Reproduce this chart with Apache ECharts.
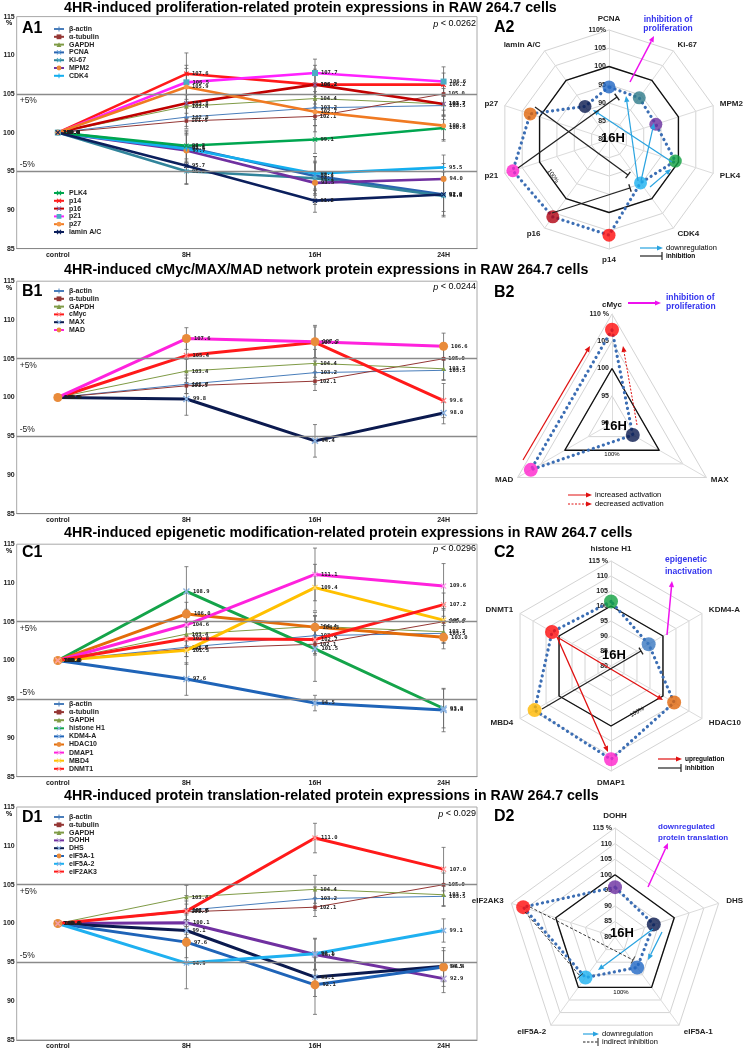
<!DOCTYPE html>
<html><head><meta charset="utf-8">
<script src="https://cdn.jsdelivr.net/npm/echarts@6.0.0/dist/echarts.min.js"></script>
<style>html,body{margin:0;padding:0;background:#fff;}#chart{width:747px;height:1050px;}</style>
</head><body><div id="chart"></div>
<script>
// ================= DATA =================
const timepoints = ['control', '8H', '16H', '24H'];
const yMin = 85, yMax = 115, yStep = 5;
const thresholds = [105, 95];
const refLevel = 100;

// ---- A1 : proliferation-related (control, 8H, 16H, 24H) ----
const aBetaActin    = [100, 102.0, 103.2, 103.5];
const aAlphaTubulin = [100, 101.5, 102.1, 105.0];
const aGAPDH        = [100, 103.4, 104.4, 103.7];
const aPCNA         = [100, 98.1, 94.4, 92.0];
const aKi67         = [100, 95.0, 94.1, 91.8];
const aMPM2         = [100, 97.7, 93.5, 94.0];
const aCDK4         = [100, 97.9, 94.7, 95.5];
const aPLK4         = [100, 98.3, 99.1, 100.6];
const aP14          = [100, 107.6, 106.2, 106.2];
const aP16          = [100, 103.8, 106.2, 103.7];
const aP21          = [100, 106.5, 107.7, 106.6];
const aP27          = [100, 105.9, 102.7, 100.9];
const aLamin        = [100, 95.7, 91.2, 92.0];
// error (SD) estimates
const aBetaActinSD    = [0, 1.2, 1.5, 1.3];
const aAlphaTubulinSD = [0, 1.0, 1.2, 1.5];
const aGAPDHSD        = [0, 1.5, 1.8, 1.4];
const aPCNASD         = [0, 2.0, 2.5, 2.9];
const aKi67SD         = [0, 1.6, 2.0, 2.5];
const aMPM2SD         = [0, 2.2, 2.8, 2.0];
const aCDK4SD         = [0, 1.8, 2.2, 1.6];
const aPLK4SD         = [0, 2.0, 1.8, 1.5];
const aP14SD          = [0, 2.7, 2.5, 1.5];
const aP16SD          = [0, 2.0, 2.0, 2.0];
const aP21SD          = [0, 2.2, 1.8, 1.9];
const aP27SD          = [0, 2.4, 2.6, 2.0];
const aLaminSD        = [0, 2.4, 1.5, 2.2];

// ---- housekeeping for B1, C1, D1 ----
const hkBetaActin      = [100, 101.7, 103.2, 103.5];
const hkAlphaTubulin   = [100, 101.5, 102.1, 105.0];
const hkGAPDH          = [100, 103.4, 104.4, 103.7];
const hkBetaActinSD    = [0, 1.2, 1.5, 1.3];
const hkAlphaTubulinSD = [0, 1.0, 1.2, 1.5];
const hkGAPDHSD        = [0, 1.5, 1.8, 1.4];

// ---- B1 : cMyc/MAX/MAD ----
const bCMyc  = [100, 105.4, 107.1, 99.6];
const bMAX   = [100, 99.8, 94.4, 98.0];
const bMAD   = [100, 107.6, 107.2, 106.6];
const bCMycSD = [0, 2.0, 2.0, 2.2];
const bMAXSD  = [0, 2.1, 2.1, 1.4];
const bMADSD  = [0, 1.4, 2.1, 1.7];

// ---- C1 : epigenetic ----
const cHistoneH1 = [100, 108.9, 101.5, 93.8];
const cKDM4A     = [100, 97.6, 94.5, 93.6];
const cHDAC10    = [100, 106.0, 104.3, 103.0];
const cDMAP1     = [100, 104.6, 111.1, 109.6];
const cMBD4      = [100, 101.3, 109.4, 105.2];
const cDNMT1     = [100, 102.8, 102.7, 107.2];
const cHistoneH1SD = [0, 3.2, 4.2, 2.5];
const cKDM4ASD     = [0, 2.1, 1.0, 2.8];
const cHDAC10SD    = [0, 1.5, 1.5, 1.5];
const cDMAP1SD     = [0, 2.0, 3.4, 2.9];
const cMBD4SD      = [0, 1.8, 3.0, 2.0];
const cDNMT1SD     = [0, 1.5, 2.0, 1.5];

// ---- D1 : protein translation ----
const dDOHH    = [100, 100.1, 96.0, 92.9];
const dDHS     = [100, 99.1, 93.1, 94.5];
const dEIF5A1  = [100, 97.6, 92.1, 94.4];
const dEIF5A2  = [100, 94.9, 96.1, 99.1];
const dEIF2AK3 = [100, 101.6, 111.0, 107.0];
const dDOHHSD    = [0, 1.5, 2.0, 1.8];
const dDHSSD     = [0, 2.0, 2.5, 2.0];
const dEIF5A1SD  = [0, 2.0, 3.8, 2.5];
const dEIF5A2SD  = [0, 3.3, 2.0, 1.5];
const dEIF2AK3SD = [0, 2.0, 1.9, 2.8];

// ---- radar axes (clockwise from top) ----
const a2Axes = ['PCNA', 'Ki-67', 'MPM2', 'PLK4', 'CDK4', 'p14', 'p16', 'p21', 'p27', 'lamin A/C'];
const b2Axes = ['cMyc', 'MAX', 'MAD'];
const c2Axes = ['histone H1', 'KDM4-A', 'HDAC10', 'DMAP1', 'MBD4', 'DNMT1'];
const d2Axes = ['DOHH', 'DHS', 'eIF5A-1', 'eIF5A-2', 'eIF2AK3'];

// ================= STYLE =================
const FF = '"Liberation Sans", Arial, sans-serif';
const PLUS = 'path://M4,0H6V4H10V6H6V10H4V6H0V4H4Z';
const CROSS = 'path://M1.5,0L5,3.5L8.5,0L10,1.5L6.5,5L10,8.5L8.5,10L5,6.5L1.5,10L0,8.5L3.5,5L0,1.5Z';
const styles = {
  'β-actin':   {line:'#4A7EBB', w:1, sym:PLUS, mk:'#4A7EBB', ms:5},
  'α-tubulin': {line:'#953735', w:1, sym:'rect', mk:'#953735', ms:3.5},
  'GAPDH':     {line:'#7F9B46', w:1, sym:'triangle', mk:'#7F9B46', ms:4.5},
  'PCNA':      {line:'#2A64B0', w:2.6, sym:CROSS, mk:'#5B9BD5', ms:5},
  'Ki-67':     {line:'#31849B', w:2.6, sym:CROSS, mk:'#4BACC6', ms:5},
  'MPM2':      {line:'#7030A0', w:2.6, sym:'circle', mk:'#E98B3A', ms:6},
  'CDK4':      {line:'#14AEEF', w:2.6, sym:PLUS, mk:'#14AEEF', ms:5},
  'PLK4':      {line:'#00A650', w:2.6, sym:CROSS, mk:'#00A650', ms:5},
  'p14':       {line:'#FF1A1A', w:2.6, sym:CROSS, mk:'#FF1A1A', ms:5},
  'p16':       {line:'#C00000', w:2.6, sym:CROSS, mk:'#8064A2', ms:5},
  'p21':       {line:'#FF22FF', w:2.6, sym:'rect', mk:'#4BACC6', ms:6},
  'p27':       {line:'#F07A22', w:2.6, sym:'circle', mk:'#F79646', ms:5},
  'lamin A/C': {line:'#0B1F5C', w:2.6, sym:CROSS, mk:'#0B1F5C', ms:5},
  'cMyc':      {line:'#FF1A1A', w:3, sym:CROSS, mk:'#FF8080', ms:6},
  'MAX':       {line:'#0B1A4F', w:3, sym:CROSS, mk:'#8DB4E2', ms:7},
  'MAD':       {line:'#FF22DD', w:3, sym:'circle', mk:'#E98B3A', ms:9},
  'histone H1':{line:'#14A44A', w:3, sym:CROSS, mk:'#8DB4E2', ms:7},
  'KDM4-A':    {line:'#1F64B8', w:3, sym:CROSS, mk:'#8DB4E2', ms:7},
  'HDAC10':    {line:'#E36C09', w:3, sym:'circle', mk:'#E98B3A', ms:9},
  'DMAP1':     {line:'#FF22DD', w:3, sym:CROSS, mk:'#FF99EE', ms:6},
  'MBD4':      {line:'#FFC000', w:3, sym:CROSS, mk:'#FFD966', ms:6},
  'DNMT1':     {line:'#FF1A1A', w:3, sym:CROSS, mk:'#FF9999', ms:6},
  'DOHH':      {line:'#7030A0', w:3, sym:CROSS, mk:'#B4A7D6', ms:7},
  'DHS':       {line:'#0B1A4F', w:3, sym:CROSS, mk:'#8DB4E2', ms:6},
  'eIF5A-1':   {line:'#1F64B8', w:3, sym:'circle', mk:'#E98B3A', ms:9},
  'eIF5A-2':   {line:'#1FB0F0', w:3, sym:CROSS, mk:'#8DB4E2', ms:6},
  'eIF2AK3':   {line:'#FF1A1A', w:3, sym:CROSS, mk:'#FF9999', ms:6}
};
const dotColors = {
  'PCNA':'#1F66C4','Ki-67':'#2E7A8A','MPM2':'#6A2EA0','PLK4':'#10A040','CDK4':'#1AB0F0',
  'p14':'#FF0A0A','p16':'#B00010','p21':'#FF22CC','p27':'#E0650A','lamin A/C':'#0A1A4F',
  'cMyc':'#FF0A0A','MAX':'#0A1A4F','MAD':'#FF22CC',
  'histone H1':'#10A040','KDM4-A':'#3A78C0','HDAC10':'#E0650A','DMAP1':'#FF22CC','MBD4':'#FFB800','DNMT1':'#FF0A0A',
  'DOHH':'#6A2EA0','DHS':'#0A1A4F','eIF5A-1':'#1F66C4','eIF5A-2':'#1AB0F0','eIF2AK3':'#FF0A0A'
};

// ================= PANELS =================
const panels = [
  {top:16.6, height:232, series:[
    ['β-actin', aBetaActin, aBetaActinSD], ['α-tubulin', aAlphaTubulin, aAlphaTubulinSD], ['GAPDH', aGAPDH, aGAPDHSD],
    ['PCNA', aPCNA, aPCNASD], ['Ki-67', aKi67, aKi67SD], ['MPM2', aMPM2, aMPM2SD], ['CDK4', aCDK4, aCDK4SD],
    ['PLK4', aPLK4, aPLK4SD], ['p14', aP14, aP14SD], ['p16', aP16, aP16SD], ['p21', aP21, aP21SD],
    ['p27', aP27, aP27SD], ['lamin A/C', aLamin, aLaminSD]]},
  {top:281.2, height:232.5, series:[
    ['β-actin', hkBetaActin, hkBetaActinSD], ['α-tubulin', hkAlphaTubulin, hkAlphaTubulinSD], ['GAPDH', hkGAPDH, hkGAPDHSD],
    ['cMyc', bCMyc, bCMycSD], ['MAX', bMAX, bMAXSD], ['MAD', bMAD, bMADSD]]},
  {top:544.2, height:232.5, series:[
    ['β-actin', hkBetaActin, hkBetaActinSD], ['α-tubulin', hkAlphaTubulin, hkAlphaTubulinSD], ['GAPDH', hkGAPDH, hkGAPDHSD],
    ['histone H1', cHistoneH1, cHistoneH1SD], ['KDM4-A', cKDM4A, cKDM4ASD], ['HDAC10', cHDAC10, cHDAC10SD],
    ['DMAP1', cDMAP1, cDMAP1SD], ['MBD4', cMBD4, cMBD4SD], ['DNMT1', cDNMT1, cDNMT1SD]]},
  {top:807, height:234, series:[
    ['β-actin', hkBetaActin, hkBetaActinSD], ['α-tubulin', hkAlphaTubulin, hkAlphaTubulinSD], ['GAPDH', hkGAPDH, hkGAPDHSD],
    ['DOHH', dDOHH, dDOHHSD], ['DHS', dDHS, dDHSSD], ['eIF5A-1', dEIF5A1, dEIF5A1SD],
    ['eIF5A-2', dEIF5A2, dEIF5A2SD], ['eIF2AK3', dEIF2AK3, dEIF2AK3SD]]}
];

const grids = [], xAxes = [], yAxes = [], series = [];
panels.forEach((p, k) => {
  grids.push({left:16, top:p.top, width:461, height:p.height, show:true, borderColor:'#a8a8a8', borderWidth:1, backgroundColor:'#fff'});
  xAxes.push({gridIndex:k, type:'value', min:-0.32, max:3.26,
    axisLine:{show:true, onZero:false, lineStyle:{color:'#888', width:1}}, axisTick:{show:false}, splitLine:{show:false},
    axisLabel:{customValues:[0,1,2,3], formatter:v => timepoints[Math.round(v)], fontSize:7, fontWeight:'bold', color:'#222', margin:3, fontFamily:FF}});
  yAxes.push({gridIndex:k, type:'value', min:yMin, max:yMax, interval:yStep,
    axisLine:{show:false}, axisTick:{show:false}, splitLine:{show:false},
    axisLabel:{fontSize:7, fontWeight:'bold', color:'#222', margin:2, fontFamily:FF}});
  // error bars
  const errData = [];
  p.series.forEach(([n, vals, sd]) => vals.forEach((v, i) => { if (sd[i] > 0) errData.push([i, v - sd[i], v + sd[i]]); }));
  series.push({type:'custom', name:'err' + k, xAxisIndex:k, yAxisIndex:k, silent:true, z:1, data:errData,
    encode:{x:0, y:[1,2]},
    renderItem:(params, api) => {
      const x = api.value(0);
      const lo = api.coord([x, api.value(1)]);
      const hi = api.coord([x, api.value(2)]);
      const st = {stroke:'#666', lineWidth:0.8};
      return {type:'group', children:[
        {type:'line', shape:{x1:lo[0], y1:lo[1], x2:hi[0], y2:hi[1]}, style:st},
        {type:'line', shape:{x1:lo[0]-2, y1:lo[1], x2:lo[0]+2, y2:lo[1]}, style:st},
        {type:'line', shape:{x1:hi[0]-2, y1:hi[1], x2:hi[0]+2, y2:hi[1]}, style:st}
      ]};
    }});
  p.series.forEach(([n, vals], j) => {
    const s = styles[n];
    const ser = {type:'line', name:n, xAxisIndex:k, yAxisIndex:k, z: s.w > 1 ? 4 : 3,
      data: vals.map((v, i) => [i, v]),
      symbol:s.sym, symbolSize:s.ms, showAllSymbol:true,
      lineStyle:{color:s.line, width:s.w}, itemStyle:{color:s.mk, borderWidth:0},
      emphasis:{disabled:true},
      label:{show:true, position:'right', distance:3, fontSize:5.5, fontWeight:'bold', color:'#222', fontFamily:'"DejaVu Sans Mono", monospace',
        formatter:pp => pp.value[1].toFixed(1)}};
    if (j === 0) {
      ser.markLine = {silent:true, symbol:['none','none'], animation:false,
        lineStyle:{color:'#8a8a8a', width:1.3, type:'solid'},
        label:{color:'#222', fontSize:8.5, fontFamily:FF, distance:[3, 2]},
        data:[
          {yAxis:thresholds[0], label:{formatter:'+5%', position:'insideStartBottom'}},
          {yAxis:thresholds[1], label:{formatter:'-5%', position:'insideStartTop'}}
        ]};
    }
    series.push(ser);
  });
});

// legends
const legBase = {orient:'vertical', itemWidth:10, itemHeight:6, itemGap:0.8, padding:0, selectedMode:false,
  textStyle:{fontSize:7, fontWeight:'bold', color:'#222', fontFamily:FF, lineHeight:7}};
const legends = [
  Object.assign({}, legBase, {left:53, top:25.5, data:['β-actin','α-tubulin','GAPDH','PCNA','Ki-67','MPM2','CDK4']}),
  Object.assign({}, legBase, {left:53, top:189.5, data:['PLK4','p14','p16','p21','p27','lamin A/C']}),
  Object.assign({}, legBase, {left:53, top:287.5, data:['β-actin','α-tubulin','GAPDH','cMyc','MAX','MAD']}),
  Object.assign({}, legBase, {left:53, top:700.5, itemGap:1.1, data:['β-actin','α-tubulin','GAPDH','histone H1','KDM4-A','HDAC10','DMAP1','MBD4','DNMT1']}),
  Object.assign({}, legBase, {left:53, top:813.5, data:['β-actin','α-tubulin','GAPDH','DOHH','DHS','eIF5A-1','eIF5A-2','eIF2AK3']})
];

// ================= RADARS =================
const ccw = arr => [arr[0]].concat(arr.slice(1).reverse());
const valAt16H = (names, list) => names.map(n => list.find(s => s[0] === n)[1][2]);
const radarDefs = [
  {center:[609, 139.5], radius:109.5, min:80, max:110, axes:a2Axes, vals:valAt16H(a2Axes, panels[0].series), suffix:'%', nameGap:7, dot:13},
  {center:[612, 423], radius:109, min:90, max:110, axes:b2Axes, vals:valAt16H(b2Axes, panels[1].series), suffix:' %', nameGap:5, dot:14},
  {center:[611, 666], radius:105, min:80, max:115, axes:c2Axes, vals:valAt16H(c2Axes, panels[2].series), suffix:' %', nameGap:8, dot:14},
  {center:[615, 937], radius:109, min:80, max:115, axes:d2Axes, vals:valAt16H(d2Axes, panels[3].series), suffix:' %', nameGap:8, dot:14}
];
const radars = [], polars = [], angleAxes = [], radiusAxes = [];
radarDefs.forEach((r, k) => {
  radars.push({center:r.center, radius:r.radius, startAngle:90, shape:'polygon', splitNumber:(r.max - r.min) / 5,
    indicator: ccw(r.axes).map(n => ({name:n, min:r.min, max:r.max})),
    axisName:{color:'#222', fontSize:8, fontWeight:'bold', fontFamily:FF}, nameGap:r.nameGap,
    splitLine:{lineStyle:{color:'#d4d4d4', width:1}}, splitArea:{show:false},
    axisLine:{lineStyle:{color:'#dcdcdc', width:1}}, axisTick:{show:false}, axisLabel:{show:false}});
  polars.push({center:r.center, radius:r.radius});
  angleAxes.push({polarIndex:k, type:'value', min:0, max:r.axes.length, startAngle:90, clockwise:true, show:false});
  radiusAxes.push({polarIndex:k, type:'value', min:r.min, max:r.max, interval:5,
    axisLine:{show:false}, axisTick:{show:false}, splitLine:{show:false},
    axisLabel:{show:true, fontSize:7, fontWeight:'bold', color:'#222', fontFamily:FF, margin:3,
      formatter:v => v === r.max ? v + r.suffix : String(v)}});
  // 100% reference polygon
  series.push({type:'radar', radarIndex:k, symbol:'none', silent:true, z:2,
    lineStyle:{color:'#111', width:1.4}, data:[{value: ccw(r.axes.map(() => refLevel))}]});
  // dotted profile
  series.push({type:'radar', radarIndex:k, symbol:'none', silent:true, z:3,
    lineStyle:{color:'#3C6EB4', width:3.2, type:[0.1, 5.2], cap:'round'}, data:[{value: ccw(r.vals)}]});
  // coloured dots
  series.push({type:'scatter', coordinateSystem:'polar', polarIndex:k, silent:true, z:10, symbolSize:r.dot,
    data: r.axes.map((n, i) => ({value:[r.vals[i], i], itemStyle:{color:dotColors[n]}}))});
});

// ================= ANNOTATIONS / TEXT =================
const graphics = [];
function txt(x, y, text, o) {
  o = o || {};
  const el = {type:'text', x, y, z:50, silent:true, rotation:o.rot || 0,
    style:{text, fill:o.color || '#000', fontSize:o.size || 8, fontWeight:o.weight || 'bold',
      fontFamily:FF, align:o.align || 'left', verticalAlign:'middle'}};
  if (o.rich) el.style.rich = o.rich;
  graphics.push(el);
}
function arrow(x1, y1, x2, y2, color, w, dash) {
  const a = Math.atan2(y2 - y1, x2 - x1), hl = 6, hw = 2.6;
  const bx = x2 - hl * Math.cos(a), by = y2 - hl * Math.sin(a);
  const px = -Math.sin(a) * hw, py = Math.cos(a) * hw;
  graphics.push({type:'line', z:40, silent:true, shape:{x1, y1, x2:bx, y2:by}, style:{stroke:color, lineWidth:w, lineDash:dash || null}});
  graphics.push({type:'polygon', z:40, silent:true, shape:{points:[[x2, y2], [bx + px, by + py], [bx - px, by - py]]}, style:{fill:color}});
}
function tbar(x1, y1, x2, y2, color, w, dash) {
  const a = Math.atan2(y2 - y1, x2 - x1), hw = 4;
  const px = -Math.sin(a) * hw, py = Math.cos(a) * hw;
  graphics.push({type:'line', z:40, silent:true, shape:{x1, y1, x2, y2}, style:{stroke:color, lineWidth:w, lineDash:dash || null}});
  graphics.push({type:'line', z:40, silent:true, shape:{x1:x2 + px, y1:y2 + py, x2:x2 - px, y2:y2 - py}, style:{stroke:color, lineWidth:w}});
}

// titles
txt(64, 8, '4HR-induced proliferation-related protein expressions in RAW 264.7 cells', {size:14.2});
txt(64, 270, '4HR-induced cMyc/MAX/MAD network protein expressions in RAW 264.7 cells', {size:14.2});
txt(64, 533, '4HR-induced epigenetic modification-related protein expressions in RAW 264.7 cells', {size:14.2});
txt(64, 796, '4HR-induced protein translation-related protein expressions in RAW 264.7 cells', {size:14.2});
// panel labels
[['A1', 29], ['B1', 292], ['C1', 553], ['D1', 818]].forEach(([t, y]) => txt(22, y, t, {size:16}));
[['A2', 28], ['B2', 293], ['C2', 553], ['D2', 817]].forEach(([t, y]) => txt(494, y, t, {size:16}));
// p values
[['0.0262', 24], ['0.0244', 287], ['0.0296', 549], ['0.029', 814]].forEach(([t, y]) =>
  txt(476, y, '{i|p} < ' + t, {size:9, weight:'normal', align:'right', rich:{i:{fontStyle:'italic', fontSize:9, fontFamily:FF}}}));
// % under top tick
[23.5, 288, 551, 814].forEach(y => txt(9, y, '%', {size:7, align:'center'}));

// ---- A2 annotations ----
const BLUE = '#29A3E0', MAG = '#EE11EE', TXTB = '#3333EE';
arrow(638, 181, 626, 96, BLUE, 1.2);
arrow(641, 181, 654, 123, BLUE, 1.2);
arrow(672, 162, 593, 110, BLUE, 1.2);
arrow(650, 187, 671, 169, BLUE, 1.2);
tbar(518, 168, 617, 97, '#222', 1.3);
tbar(535, 107, 628, 175, '#222', 1.3);
tbar(552, 213, 630, 188, '#222', 1.3);
arrow(630, 82, 654, 36, MAG, 1.5);
txt(668, 20, 'inhibition of', {size:8.5, color:TXTB, align:'center'});
txt(668, 29, 'proliferation', {size:8.5, color:TXTB, align:'center'});
txt(613, 138.5, '16H', {size:13, align:'center'});
txt(553, 176, '100%', {size:6, rot:-0.95, align:'center', weight:'normal'});
arrow(640, 248, 663, 248, BLUE, 1.2);
txt(666, 248, 'downregulation', {size:7.5, weight:'normal'});
tbar(640, 256, 662, 256, '#222', 1.2);
txt(666, 256.5, 'inhibition', {size:6.5});

// ---- B2 annotations ----
arrow(523, 460, 590, 346, '#E01010', 1.2);
arrow(637, 425, 623, 346, '#E01010', 1, [2, 1.5]);
arrow(628, 303, 661, 303, MAG, 2);
txt(666, 298, 'inhibition of', {size:8.5, color:TXTB});
txt(666, 306.5, 'proliferation', {size:8.5, color:TXTB});
txt(615, 426, '16H', {size:13, align:'center'});
txt(612, 454.5, '100%', {size:6, align:'center', weight:'normal'});
arrow(568, 495, 592, 495, '#E01010', 1);
txt(595, 495, 'increased activation', {size:7.5, weight:'normal'});
arrow(568, 504, 592, 504, '#E01010', 1, [2, 1.5]);
txt(595, 504, 'decreased activation', {size:7.5, weight:'normal'});

// ---- C2 annotations ----
arrow(557, 637, 663, 700, '#E01010', 1.3);
arrow(557, 637, 608, 752, '#E01010', 1.3);
tbar(542, 709, 641, 651, '#222', 1.3);
arrow(667, 635, 672, 581, MAG, 1.5);
txt(665, 560, 'epigenetic', {size:8.5, color:TXTB});
txt(665, 571.5, 'inactivation', {size:8.5, color:TXTB});
txt(614, 655, '16H', {size:13, align:'center'});
txt(637, 712, '100%', {size:6, rot:0.52, align:'center', weight:'normal'});
arrow(658, 759, 682, 759, '#E01010', 1.2);
txt(685, 759, 'upregulation', {size:6.5});
tbar(658, 768, 681, 768, '#222', 1.2);
txt(685, 768, 'inhibition', {size:6.5});

// ---- D2 annotations ----
arrow(653, 929, 598, 970, BLUE, 1.2);
arrow(662, 932, 648, 960, BLUE, 1.2);
tbar(530, 907, 633, 960, '#222', 0.9, [3, 2]);
tbar(525, 912, 580, 976, '#222', 0.9, [3, 2]);
arrow(648, 887, 668, 843, MAG, 1.5);
txt(658, 827, 'downregulated', {size:8, color:TXTB});
txt(658, 837.5, 'protein translation', {size:8, color:TXTB});
txt(622, 933, '16H', {size:13, align:'center'});
txt(621, 992, '100%', {size:6, align:'center', weight:'normal'});
arrow(583, 1034, 599, 1034, BLUE, 1.2);
txt(602, 1034, 'downregulation', {size:7.5, weight:'normal'});
tbar(583, 1042, 598, 1042, '#222', 1, [2.5, 1.5]);
txt(602, 1042, 'indirect inhibition', {size:7.5, weight:'normal'});

// ================= OPTION =================
const chart = echarts.init(document.getElementById('chart'), null, {renderer:'canvas'});
chart.setOption({
  animation:false,
  backgroundColor:'#fff',
  textStyle:{fontFamily:FF},
  grid:grids, xAxis:xAxes, yAxis:yAxes,
  radar:radars, polar:polars, angleAxis:angleAxes, radiusAxis:radiusAxes,
  legend:legends,
  series:series,
  graphic:graphics
});
</script></body></html>
